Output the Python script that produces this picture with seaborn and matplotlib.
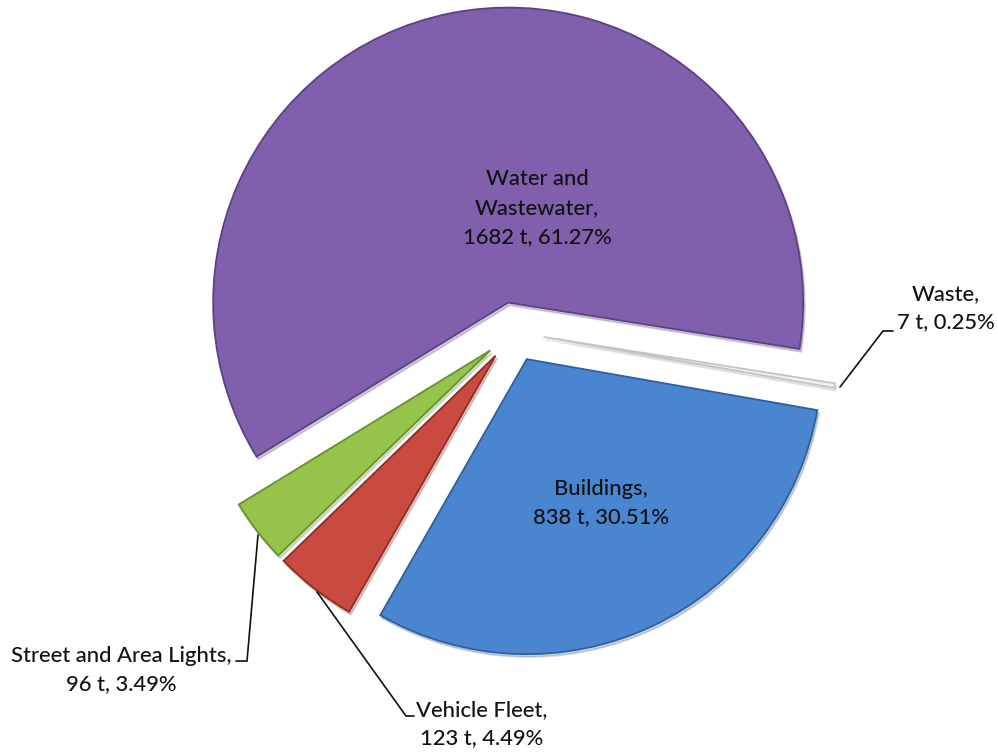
import matplotlib
matplotlib.use("Agg")
import matplotlib.pyplot as plt
import seaborn as sns

# ---- data ----
categories = ["Water and\nWastewater", "Waste", "Buildings", "Vehicle Fleet", "Street and Area Lights"]
tonnes = [1682, 7, 838, 123, 96]
percents = [61.27, 0.25, 30.51, 4.49, 3.49]

# ---- style ----
colors = ["#8060ad", "#f1f1f1", "#4a86d0", "#c94a3e", "#95c34b"]
edge_colors = ["#5c4283", "#c4c4c4", "#2f5f9e", "#8f2d25", "#6a9130"]

sns.set_theme(style="white")
plt.rcParams['font.family'] = ['Lato', 'DejaVu Sans']

W, H = 998, 752
fig = plt.figure(figsize=(W / 100, H / 100), dpi=100)
ax = fig.add_axes([0, 0, 1, 1])


def py(y):
    return H - y


R = 295
cx, cy = 514, 332
wedges, _ = ax.pie(
    percents,
    colors=colors,
    startangle=211.5,
    counterclock=False,
    explode=[30] * len(percents),
    radius=R,
    center=(cx, py(cy)),
    wedgeprops=dict(linewidth=1.3),
    shadow=dict(ox=1.2, oy=-2.0, shade=0.3, alpha=0.25),
)
for w, ec in zip(wedges, edge_colors):
    w.set_edgecolor(ec)

ax.set_xlim(0, W)
ax.set_ylim(0, H)
ax.set_aspect('auto')
ax.axis('off')

# ---- labels ----
label_pos = [(537, 208), (946, 308), (601, 503), (482, 724), (121, 670)]
for cat, t, p, (lx, ly) in zip(categories, tonnes, percents, label_pos):
    ax.text(lx, py(ly), f"{cat},\n{t} t, {p:.2f}%", ha='center', va='center',
            fontsize=15.8, linespacing=1.55, color='#111111', fontweight='medium')

# ---- leader lines ----
leaders = [
    [(840, 387), (883, 331), (893, 331)],
    [(317, 592), (406, 716), (414, 716)],
    [(258, 535), (247, 661), (236, 661)],
]
for pts in leaders:
    ax.plot([p[0] for p in pts], [py(p[1]) for p in pts], color='#111111', lw=1.2,
            solid_joinstyle='miter')

fig.savefig('out.png', dpi=100)
